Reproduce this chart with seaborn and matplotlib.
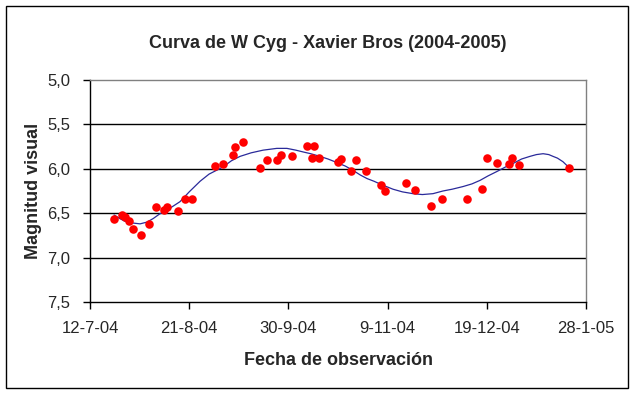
import matplotlib
matplotlib.use("Agg")
import matplotlib.pyplot as plt
from matplotlib.patches import Rectangle
import pandas as pd
import seaborn as sns

sns.set_style("white")
plt.rcParams['font.family'] = ['Liberation Sans', 'DejaVu Sans']

start = pd.Timestamp("2004-07-12")

# observations: days after 12-7-04 and visual magnitude
obs_days = [9.7, 12.8, 14.0, 15.7, 17.5, 20.6, 23.7, 26.7, 29.8, 31.0, 35.6, 38.4,
            41.0, 50.4, 53.6, 57.8, 58.6, 61.6, 68.7, 71.2, 75.5, 77.1, 81.3, 87.4,
            90.3, 89.6, 92.2, 100.0, 101.3, 105.4, 107.4, 111.4, 117.5, 119.1, 127.5,
            131.2, 137.6, 142.0, 152.0, 158.0, 160.2, 164.2, 169.0, 170.3, 173.1, 193.3]
obs_mag = [6.56, 6.52, 6.54, 6.59, 6.68, 6.74, 6.62, 6.43, 6.46, 6.43, 6.48, 6.34,
           6.34, 5.97, 5.95, 5.84, 5.76, 5.70, 5.99, 5.90, 5.90, 5.84, 5.86, 5.74,
           5.74, 5.88, 5.88, 5.92, 5.89, 6.03, 5.90, 6.03, 6.18, 6.25, 6.16,
           6.24, 6.42, 6.34, 6.34, 6.23, 5.88, 5.93, 5.95, 5.88, 5.96, 5.99]

# smooth curve
fit_days = [9.7, 12.0, 14.0, 17.0, 20.2, 23.0, 25.5, 28.0, 30.0, 33.0, 36.3, 40.0,
            44.4, 48.0, 53.6, 57.0, 60.5, 65.0, 69.8, 75.3, 79.4, 83.0, 85.9, 89.0,
            92.7, 96.0, 99.6, 103.0, 106.2, 109.0, 111.7, 114.5, 116.9, 119.5, 122.2,
            126.0, 130.2, 134.0, 138.3, 142.3, 146.0, 150.4, 154.0, 157.3, 160.5,
            164.1, 167.5, 170.6, 174.0, 177.4, 180.0, 182.7, 185.0, 186.7, 188.5,
            190.7, 193.3]
fit_mag = [6.52, 6.56, 6.59, 6.61, 6.62, 6.60, 6.56, 6.51, 6.48, 6.43, 6.37, 6.26,
           6.14, 6.06, 5.98, 5.91, 5.86, 5.82, 5.79, 5.77, 5.77, 5.79, 5.81, 5.83,
           5.86, 5.89, 5.93, 5.97, 6.02, 6.07, 6.11, 6.14, 6.17, 6.20, 6.23,
           6.26, 6.28, 6.29, 6.28, 6.25, 6.23, 6.20, 6.17, 6.13, 6.08,
           6.03, 5.98, 5.94, 5.89, 5.86, 5.84, 5.83, 5.84, 5.86, 5.88,
           5.92, 5.99]

tick_days = [0, 40, 80, 120, 160, 200]
tick_labels = ["12-7-04", "21-8-04", "30-9-04", "9-11-04", "19-12-04", "28-1-05"]
y_ticks = [5.0, 5.5, 6.0, 6.5, 7.0, 7.5]
y_labels = ["5,0", "5,5", "6,0", "6,5", "7,0", "7,5"]

obs = pd.DataFrame({"fecha": start + pd.to_timedelta(obs_days, unit="D"), "mag": obs_mag})
fit = pd.DataFrame({"fecha": start + pd.to_timedelta(fit_days, unit="D"), "mag": fit_mag})
ticks = start + pd.to_timedelta(tick_days, unit="D")

fig = plt.figure(figsize=(6.37, 3.95), dpi=100)
ax = fig.add_axes([90 / 637, 1 - 302 / 395, 496 / 637, 222 / 395])

sns.lineplot(x="fecha", y="mag", data=fit, ax=ax, color="#2a2a9a", linewidth=0.9)
sns.scatterplot(x="fecha", y="mag", data=obs, ax=ax, color="#ff0000",
                s=38, edgecolor="#ff0000", linewidth=0, zorder=3)

ax.set_xlim(ticks[0], ticks[-1])
ax.set_ylim(7.5, 5.0)
ax.set_xticks(ticks)
ax.set_xticklabels(tick_labels, fontsize=12)
ax.set_yticks(y_ticks)
ax.set_yticklabels(y_labels, fontsize=12)
for v in y_ticks[1:-1]:
    ax.axhline(v, color="black", linewidth=1, zorder=0)

ax.tick_params(axis="both", direction="out", length=5, width=1, color="black",
               bottom=True, left=True, pad=9)
for side in ["left", "bottom"]:
    ax.spines[side].set_color("black")
    ax.spines[side].set_linewidth(1)
for side in ["top", "right"]:
    ax.spines[side].set_color("#808080")
    ax.spines[side].set_linewidth(1)

ax.set_xlabel("Fecha de observación", fontsize=13, fontweight="bold", labelpad=11)
ax.set_ylabel("Magnitud visual", fontsize=13, fontweight="bold", labelpad=4)
fig.text(328 / 637, 1 - 43 / 395, "Curva de W Cyg - Xavier Bros (2004-2005)",
         fontsize=13, fontweight="bold", ha="center", va="center")

fig.patches.append(Rectangle((6 / 637, 1 - 388 / 395), 622 / 637, 382 / 395,
                             transform=fig.transFigure, fill=False,
                             edgecolor="black", linewidth=1))

fig.savefig("out.png", dpi=100)
